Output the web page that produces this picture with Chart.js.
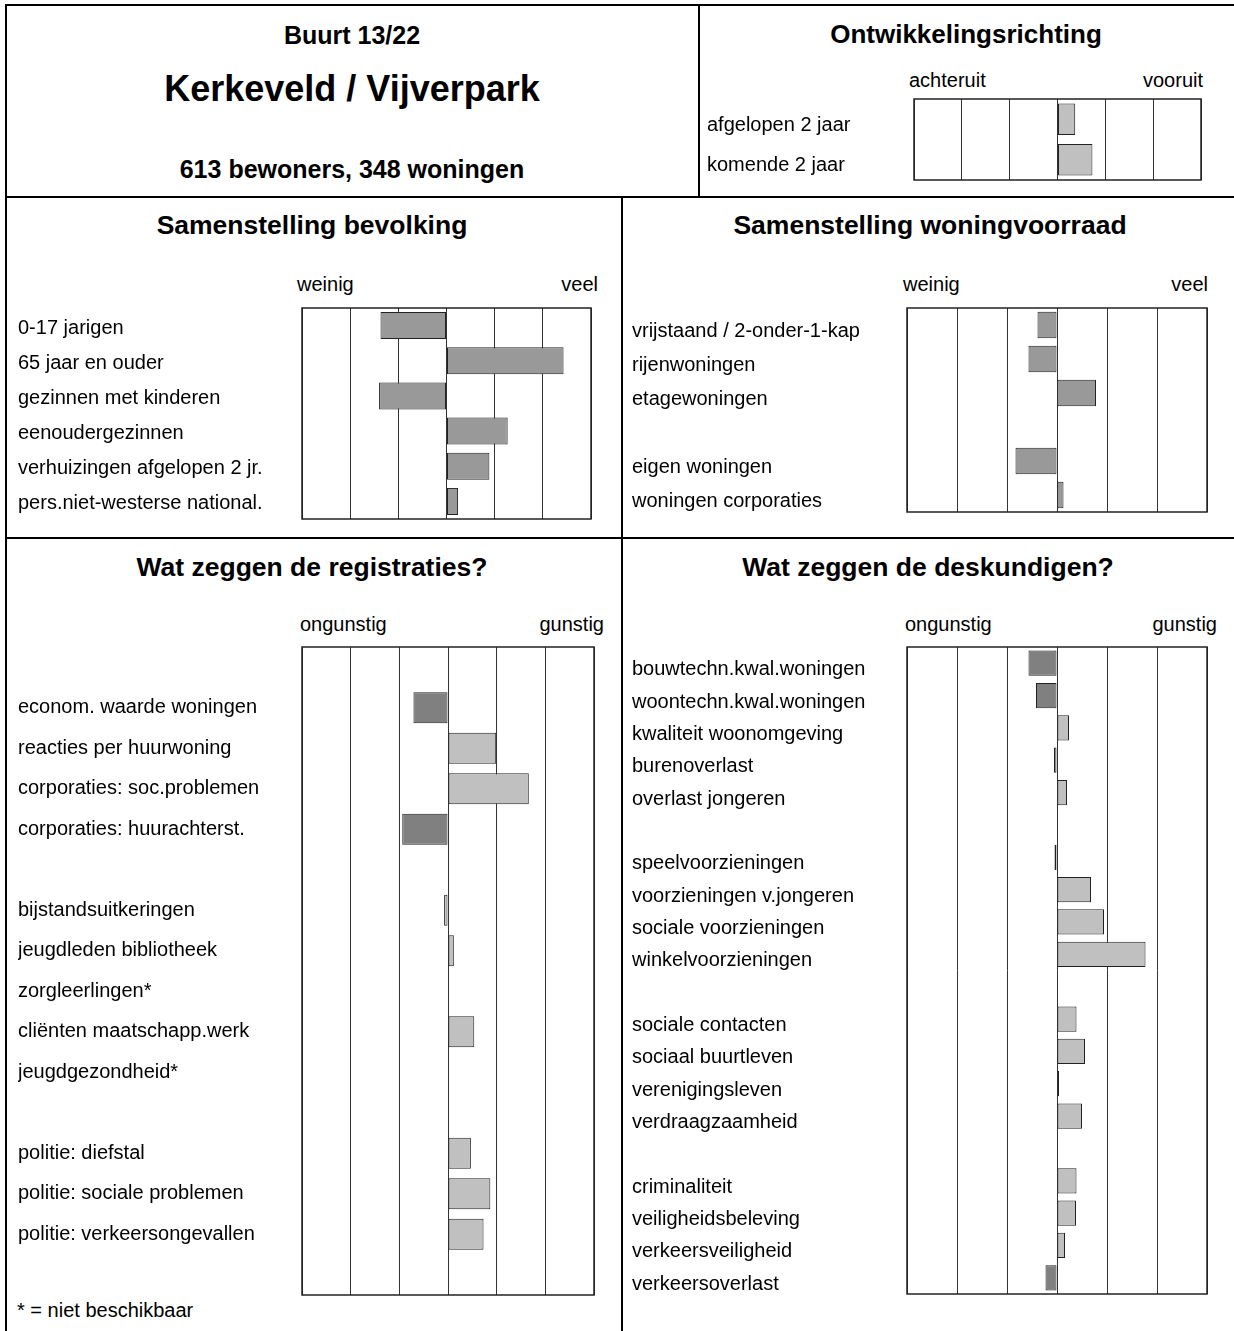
<!DOCTYPE html>
<html>
<head>
<meta charset="utf-8">
<script src="https://cdn.jsdelivr.net/npm/chart.js"></script>
<style>
  body { margin: 0; background: #fff; }
  #pagina { position: relative; width: 1234px; height: 1331px; overflow: hidden; font-family: "Liberation Sans", Arial, sans-serif; color: #000; }
  .lijn { position: absolute; background: #000; }
  .tekst { position: absolute; white-space: nowrap; line-height: 1; }
  canvas { position: absolute; }
</style>
</head>
<body>
<div id="pagina"></div>
<script>
// gegevens per grafiek
const ontwLabels = ['afgelopen 2 jaar', 'komende 2 jaar']
const ontwWaarden = [0.37, 0.73]

const bevLabels = ['0-17 jarigen', '65 jaar en ouder', 'gezinnen met kinderen', 'eenoudergezinnen',
  'verhuizingen afgelopen 2 jr.', 'pers.niet-westerse national.']
const bevWaarden = [-1.37, 2.43, -1.40, 1.27, 0.89, 0.24]

const wonLabels = ['vrijstaand / 2-onder-1-kap', 'rijenwoningen', 'etagewoningen', '',
  'eigen woningen', 'woningen corporaties']
const wonWaarden = [-0.39, -0.57, 0.78, null, -0.83, 0.13]

const regLabels = ['', 'econom. waarde woningen', 'reacties per huurwoning', 'corporaties: soc.problemen',
  'corporaties: huurachterst.', '', 'bijstandsuitkeringen', 'jeugdleden bibliotheek', 'zorgleerlingen*',
  'cliënten maatschapp.werk', 'jeugdgezondheid*', '', 'politie: diefstal', 'politie: sociale problemen',
  'politie: verkeersongevallen', '']
const regWaarden = [null, -0.71, 0.99, 1.66, -0.94, null, -0.08, 0.12, null, 0.54, null, null, 0.47, 0.87, 0.73, null]

const deskLabels = ['bouwtechn.kwal.woningen', 'woontechn.kwal.woningen', 'kwaliteit woonomgeving',
  'burenoverlast', 'overlast jongeren', '', 'speelvoorzieningen', 'voorzieningen v.jongeren',
  'sociale voorzieningen', 'winkelvoorzieningen', '', 'sociale contacten', 'sociaal buurtleven',
  'verenigingsleven', 'verdraagzaamheid', '', 'criminaliteit', 'veiligheidsbeleving',
  'verkeersveiligheid', 'verkeersoverlast']
const deskWaarden = [-0.57, -0.42, 0.24, -0.06, 0.20, null, -0.05, 0.68, 0.94, 1.77, null,
  0.39, 0.56, 0.04, 0.50, null, 0.39, 0.38, 0.16, -0.23]

// kleuren (donker = ongunstig)
const DONKER = '#808080', LICHT = '#c0c0c0', MIDDEL = '#999999'
const regKleuren = regWaarden.map((w, i) => (i == 1 || i == 4) ? DONKER : LICHT)
const deskKleuren = deskWaarden.map(w => w < 0 ? DONKER : LICHT)

const pagina = document.getElementById('pagina')

function lijn(x, y, w, h) {
  let d = document.createElement('div')
  d.className = 'lijn'
  d.style.cssText = `left:${x}px;top:${y}px;width:${w}px;height:${h}px`
  pagina.appendChild(d)
}

// tekst plaatsen op basislijn; uitlijning: l, c of r
function tekst(str, x, basis, grootte, vet, uitlijning) {
  let d = document.createElement('div')
  d.className = 'tekst'
  d.textContent = str
  d.style.fontSize = grootte + 'px'
  d.style.fontWeight = vet ? 'bold' : 'normal'
  d.style.left = x + 'px'
  d.style.top = (basis - 0.8465 * grootte) + 'px'
  if (uitlijning == 'c') d.style.transform = 'translateX(-50%)'
  if (uitlijning == 'r') d.style.transform = 'translateX(-100%)'
  pagina.appendChild(d)
}

// kaders
lijn(5, 4, 2, 1327)
lijn(5, 4, 1229, 2)
lijn(698, 4, 2, 193)
lijn(5, 196, 1229, 2)
lijn(621, 196, 2, 1135)
lijn(5, 537, 1229, 2)

// koppen
tekst('Buurt 13/22', 352, 44, 25, true, 'c')
tekst('Kerkeveld / Vijverpark', 352, 101, 36, true, 'c')
tekst('613 bewoners, 348 woningen', 352, 178, 25, true, 'c')
tekst('Ontwikkelingsrichting', 966, 43, 26, true, 'c')
tekst('achteruit', 909, 87, 20, false, 'l')
tekst('vooruit', 1203, 87, 20, false, 'r')
tekst('Samenstelling bevolking', 312, 234, 26.5, true, 'c')
tekst('weinig', 297, 291, 20, false, 'l')
tekst('veel', 598, 291, 20, false, 'r')
tekst('Samenstelling woningvoorraad', 930, 234, 26.5, true, 'c')
tekst('weinig', 903, 291, 20, false, 'l')
tekst('veel', 1208, 291, 20, false, 'r')
tekst('Wat zeggen de registraties?', 312, 576, 26.5, true, 'c')
tekst('ongunstig', 300, 631, 20, false, 'l')
tekst('gunstig', 604, 631, 20, false, 'r')
tekst('Wat zeggen de deskundigen?', 928, 576, 26.5, true, 'c')
tekst('ongunstig', 905, 631, 20, false, 'l')
tekst('gunstig', 1217, 631, 20, false, 'r')
tekst('* = niet beschikbaar', 17, 1317, 20, false, 'l')

const kaderPlugin = {
  id: 'kader',
  beforeDatasetsDraw(chart) {
    const { ctx, chartArea: a } = chart
    ctx.save()
    ctx.strokeStyle = '#222'
    ctx.lineWidth = 1.5
    ctx.strokeRect(a.left, a.top, a.right - a.left, a.bottom - a.top)
    ctx.restore()
  }
}

// labelVerschuiving: labels staan in het origineel iets lager dan de balken
function grafiek(labels, waarden, kleuren, labelLinks, kader, balkDikte, labelVerschuiving) {
  const pad = 2
  let canvas = document.createElement('canvas')
  let breedte = kader.rechts - labelLinks + pad
  let hoogte = kader.onder - kader.boven + 2 * pad
  canvas.width = breedte
  canvas.height = hoogte
  canvas.style.left = labelLinks + 'px'
  canvas.style.top = (kader.boven - pad) + 'px'
  canvas.style.width = breedte + 'px'
  canvas.style.height = hoogte + 'px'
  pagina.appendChild(canvas)

  new Chart(canvas, {
    type: 'bar',
    data: {
      labels: labels,
      datasets: [{
        data: waarden,
        backgroundColor: kleuren,
        borderColor: '#222',
        borderWidth: 1,
        borderSkipped: false,
        barPercentage: balkDikte,
        categoryPercentage: 1
      }]
    },
    options: {
      indexAxis: 'y',
      responsive: false,
      animation: false,
      layout: { padding: { top: pad, bottom: pad, right: pad, left: 0 } },
      plugins: { legend: { display: false }, tooltip: { enabled: false } },
      scales: {
        x: {
          min: -3, max: 3,
          ticks: { display: false, stepSize: 1 },
          grid: { color: '#333', lineWidth: 1, drawTicks: false },
          border: { display: false },
          afterFit: s => { s.height = 0; s.paddingLeft = 0; s.paddingRight = 0 }
        },
        y: {
          grid: { display: false },
          border: { display: false },
          ticks: {
            crossAlign: 'far', padding: 0, autoSkip: false, color: '#000',
            labelOffset: labelVerschuiving,
            font: { family: '"Liberation Sans", Arial, sans-serif', size: 20 }
          },
          afterFit: s => {
            s.width = kader.links - labelLinks
            s.paddingTop = 0
            s.paddingBottom = 0
          }
        }
      }
    },
    plugins: [kaderPlugin]
  })
}

grafiek(ontwLabels, ontwWaarden, LICHT, 707, { links: 914, rechts: 1201, boven: 99, onder: 180 }, 0.78, 6)
grafiek(bevLabels, bevWaarden, MIDDEL, 18, { links: 302, rechts: 591, boven: 308, onder: 519 }, 0.77, 2.5)
grafiek(wonLabels, wonWaarden, MIDDEL, 632, { links: 907, rechts: 1207, boven: 308, onder: 512 }, 0.78, 6)
grafiek(regLabels, regWaarden, regKleuren, 18, { links: 302, rechts: 594, boven: 647, onder: 1295 }, 0.76, 0)
grafiek(deskLabels, deskWaarden, deskKleuren, 632, { links: 907, rechts: 1207, boven: 647, onder: 1294 }, 0.78, 6.5)
</script>
</body>
</html>
